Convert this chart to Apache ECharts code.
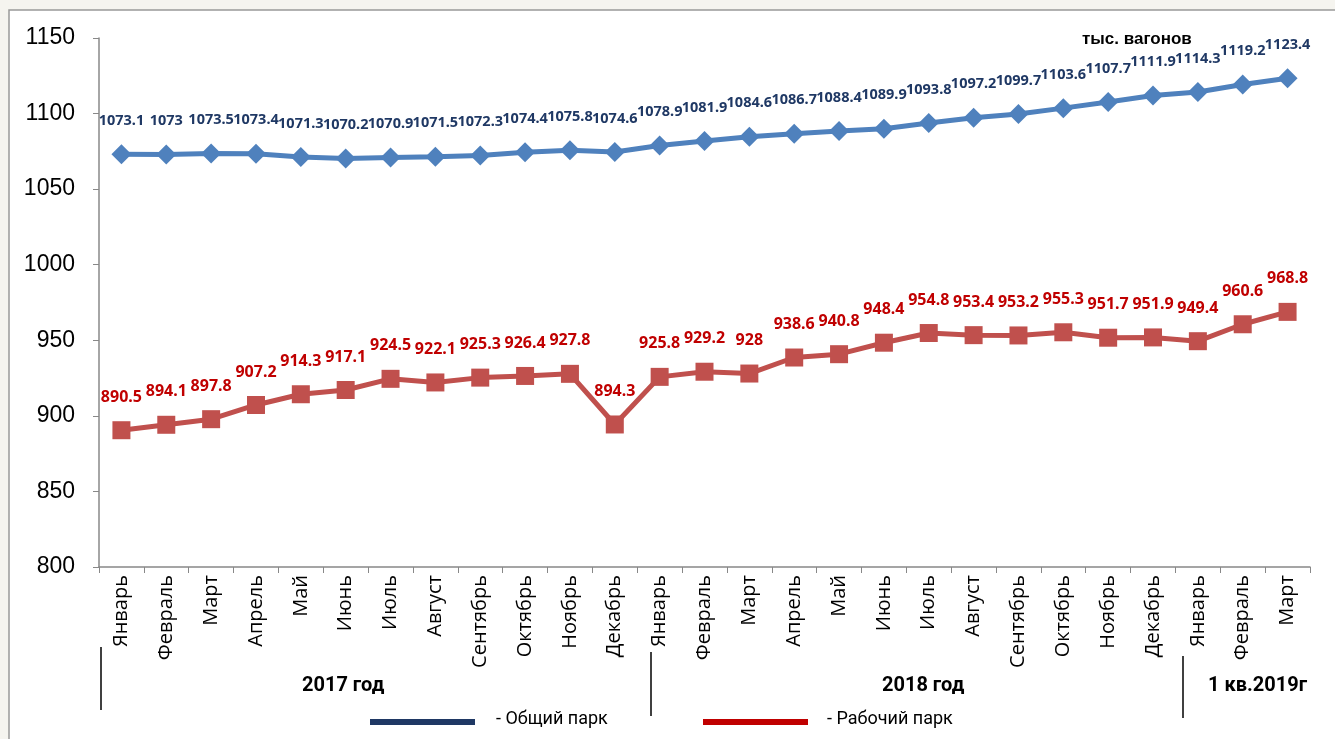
<!DOCTYPE html>
<html><head><meta charset="utf-8">
<script src="https://cdn.jsdelivr.net/npm/echarts@6/dist/echarts.min.js"></script>
<style>html,body{margin:0;padding:0;background:#f5f4ef;}#c{width:1335px;height:739px;}</style>
</head><body><div id="c"></div>
<script>
const categories = ['Январь','Февраль','Март','Апрель','Май','Июнь','Июль','Август','Сентябрь','Октябрь','Ноябрь','Декабрь',
  'Январь','Февраль','Март','Апрель','Май','Июнь','Июль','Август','Сентябрь','Октябрь','Ноябрь','Декабрь',
  'Январь','Февраль','Март'];
const totalPark = [1073.1,1073,1073.5,1073.4,1071.3,1070.2,1070.9,1071.5,1072.3,1074.4,1075.8,1074.6,
  1078.9,1081.9,1084.6,1086.7,1088.4,1089.9,1093.8,1097.2,1099.7,1103.6,1107.7,1111.9,1114.3,1119.2,1123.4];
const workPark = [890.5,894.1,897.8,907.2,914.3,917.1,924.5,922.1,925.3,926.4,927.8,894.3,
  925.8,929.2,928,938.6,940.8,948.4,954.8,953.4,953.2,955.3,951.7,951.9,949.4,960.6,968.8];
const seriesNames = ['- Общий парк','- Рабочий парк'];
const groupLabels = ['2017 год','2018 год','1 кв.2019г'];
const unitLabel = 'тыс. вагонов';

const chart = echarts.init(document.getElementById('c'));
chart.setOption({
  animation:false,
  backgroundColor:'#f5f4ef',
  grid:{left:99,right:25,top:38,bottom:172},
  xAxis:{type:'category',data:categories,boundaryGap:true,
    axisLine:{lineStyle:{color:'#888',width:1.5}},
    axisTick:{show:true,length:6,lineStyle:{color:'#888'}},
    axisLabel:{rotate:90,interval:0,color:'#000',fontFamily:'"Open Sans"',fontSize:20,margin:8}},
  yAxis:{type:'value',min:800,max:1150,interval:50,
    axisLine:{show:true,lineStyle:{color:'#888',width:1.5}},
    axisTick:{show:true,length:6,lineStyle:{color:'#888'}},
    splitLine:{show:false},
    axisLabel:{color:'#000',fontFamily:'Liberation Sans',fontSize:23,margin:24,formatter:v=>String(v)}},
  series:[
    {name:seriesNames[0],type:'line',data:totalPark,symbol:'diamond',symbolSize:20,
     lineStyle:{color:'#4f81bd',width:5},itemStyle:{color:'#4f81bd'},
     label:{show:true,position:'top',distance:16,color:'#1f3864',fontFamily:'Noto Sans',fontWeight:'bold',fontSize:14.5}},
    {name:seriesNames[1],type:'line',data:workPark,symbol:'rect',symbolSize:18,
     lineStyle:{color:'#c0504d',width:5},itemStyle:{color:'#c0504d'},
     label:{show:true,position:'top',distance:16,color:'#c00000',fontFamily:'Noto Sans',fontWeight:'bold',fontSize:16}}
  ],
  graphic:[
    {type:'rect',shape:{x:9,y:10,width:1340,height:740},style:{fill:'#fff',stroke:'#999',lineWidth:1.5},z:-10},
    {type:'text',left:1082,top:31,style:{text:unitLabel,fill:'#000',font:'bold 17px "Liberation Sans"'}},
    {type:'text',left:302,top:676,style:{text:groupLabels[0],fill:'#000',font:'bold 20px Roboto'}},
    {type:'text',left:882,top:676,style:{text:groupLabels[1],fill:'#000',font:'bold 20px Roboto'}},
    {type:'text',left:1208,top:676,style:{text:groupLabels[2],fill:'#000',font:'bold 20px Roboto'}},
    {type:'line',shape:{x1:101,y1:647,x2:101,y2:710},style:{stroke:'#000',lineWidth:1.5}},
    {type:'line',shape:{x1:651,y1:652,x2:651,y2:716},style:{stroke:'#000',lineWidth:1.5}},
    {type:'line',shape:{x1:1183,y1:656,x2:1183,y2:718},style:{stroke:'#000',lineWidth:1.5}},
    {type:'line',shape:{x1:370,y1:722,x2:475,y2:722},style:{stroke:'#1f3864',lineWidth:6}},
    {type:'text',left:496,top:710,style:{text:seriesNames[0],fill:'#000',font:'18px Roboto'}},
    {type:'line',shape:{x1:703,y1:722,x2:808,y2:722},style:{stroke:'#c00000',lineWidth:6}},
    {type:'text',left:827,top:710,style:{text:seriesNames[1],fill:'#000',font:'18px Roboto'}}
  ]
});
</script></body></html>
